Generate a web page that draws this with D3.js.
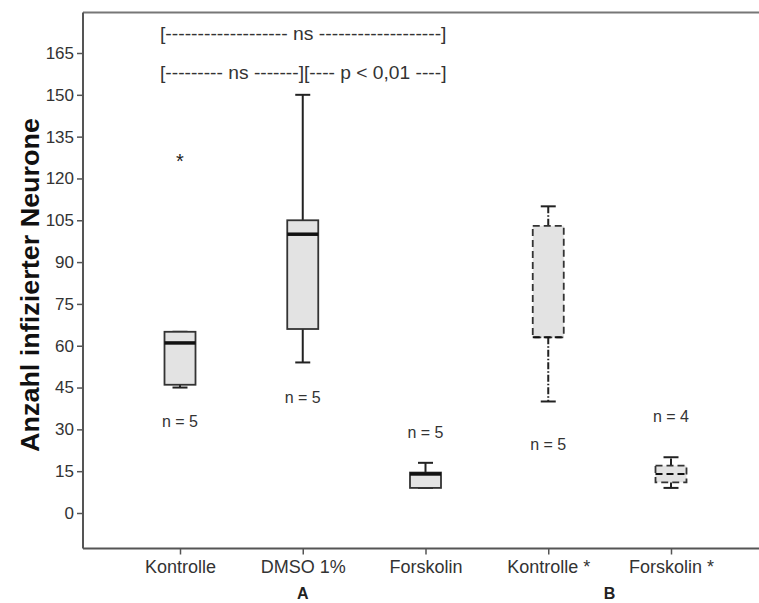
<!DOCTYPE html>
<html>
<head>
<meta charset="utf-8">
<script src="https://cdn.jsdelivr.net/npm/d3@7"></script>
<style>
  html, body { margin: 0; padding: 0; background: #fff; }
  svg { display: block; font-family: "Liberation Sans", Arial, sans-serif; }
</style>
</head>
<body>
<svg id="chart" width="759" height="603"></svg>
<script>
// ---- data ----
const categories = ["Kontrolle", "DMSO 1%", "Forskolin", "Kontrolle *", "Forskolin *"];
const groupOf = ["A", "A", "A", "B", "B"];
const dashed = [false, false, false, true, true];
const whiskerLow = [45, 54, 9, 40, 9];
const q1 = [46, 66, 9, 63, 11];
const median = [61, 100, 14, 63, 14];
const q3 = [65, 105, 14.5, 103, 17];
const whiskerHigh = [65, 150, 18, 110, 20];
const outlierCats = ["Kontrolle"];
const outlierValues = [127];
const nLabels = ["n = 5", "n = 5", "n = 5", "n = 5", "n = 4"];
const nLabelAt = [33, 41.5, 29, 24.5, 34.5];
const yTicks = [0, 15, 30, 45, 60, 75, 90, 105, 120, 135, 150, 165];
const groups = ["A", "B"];
const annotations = [
  { text: "[------------------- ns -------------------]", from: "Kontrolle", to: "Forskolin", at: 172 },
  { text: "[--------- ns -------][---- p < 0,01 ----]", from: "Kontrolle", to: "Forskolin", at: 158 }
];

// ---- layout ----
const svg = d3.select("#chart");
const frame = { left: 83, top: 12.5, bottom: 548.5, right: 780 };
const y = d3.scaleLinear().domain([0, 165]).range([513, 53]);
const x = d3.scalePoint().domain(categories).range([180, 671]);
const boxW = 31, capW = 15;
const textCol = "#333";

// frame
svg.append("line").attr("x1", frame.left).attr("x2", frame.right).attr("y1", frame.top).attr("y2", frame.top)
  .attr("stroke", "#777").attr("stroke-width", 2);
svg.append("line").attr("x1", frame.left).attr("x2", frame.right).attr("y1", frame.bottom).attr("y2", frame.bottom)
  .attr("stroke", "#555").attr("stroke-width", 2);

// y axis
const yAxis = svg.append("g").attr("transform", `translate(${frame.left},0)`)
  .call(d3.axisLeft(y).tickValues(yTicks).tickSize(6).tickSizeOuter(0).tickPadding(3));
yAxis.select(".domain").remove();
yAxis.append("line").attr("x1", 0).attr("x2", 0).attr("y1", frame.top).attr("y2", frame.bottom)
  .attr("stroke", "#555").attr("stroke-width", 2);
yAxis.selectAll(".tick line").attr("stroke", "#555").attr("stroke-width", 1.5);
yAxis.selectAll(".tick text").attr("fill", textCol).style("font-size", "17px")
  .style("font-family", "'Liberation Sans', Arial, sans-serif");

// x axis
const xAxis = svg.append("g").attr("transform", `translate(0,${frame.bottom})`)
  .call(d3.axisBottom(x).tickSize(6).tickPadding(6));
xAxis.select(".domain").remove();
xAxis.selectAll(".tick line").attr("stroke", "#555").attr("stroke-width", 1.5);
xAxis.selectAll(".tick text").attr("fill", textCol).style("font-size", "18px")
  .style("font-family", "'Liberation Sans', Arial, sans-serif");

// group labels
groups.forEach(g => {
  const members = categories.filter((c, i) => groupOf[i] === g);
  const cx = d3.mean(members, c => x(c));
  svg.append("text").attr("x", cx).attr("y", 599).attr("text-anchor", "middle")
    .attr("font-weight", "bold").attr("font-size", 16).attr("fill", "#222").text(g);
});

// y title
svg.append("text")
  .attr("transform", `translate(39,${(y(0) + y(165)) / 2 + 2}) rotate(-90)`)
  .attr("text-anchor", "middle").attr("font-weight", "bold").attr("font-size", 25)
  .attr("textLength", 334).attr("lengthAdjust", "spacingAndGlyphs")
  .attr("fill", "#111").text("Anzahl infizierter Neurone");

// boxes
const data = categories.map((c, i) => ({
  c, lo: whiskerLow[i], q1: q1[i], med: median[i], q3: q3[i], hi: whiskerHigh[i], dashed: dashed[i]
}));
const g = svg.append("g");
data.forEach(d => {
  const cx = x(d.c);
  const wDash = d.dashed ? "7,2,1.5,2" : null;
  const bDash = d.dashed ? "7,4" : null;
  // whiskers
  g.append("line").attr("x1", cx).attr("x2", cx).attr("y1", y(d.q3)).attr("y2", y(d.hi))
    .attr("stroke", "#222").attr("stroke-width", 2).attr("stroke-dasharray", wDash);
  g.append("line").attr("x1", cx).attr("x2", cx).attr("y1", y(d.q1)).attr("y2", y(d.lo))
    .attr("stroke", "#222").attr("stroke-width", 2).attr("stroke-dasharray", wDash);
  // caps
  [d.lo, d.hi].forEach(v => {
    g.append("line").attr("x1", cx - capW / 2).attr("x2", cx + capW / 2).attr("y1", y(v)).attr("y2", y(v))
      .attr("stroke", "#222").attr("stroke-width", 2);
  });
  // box
  g.append("rect").attr("x", cx - boxW / 2).attr("width", boxW)
    .attr("y", y(d.q3)).attr("height", y(d.q1) - y(d.q3))
    .attr("fill", "#e3e3e3").attr("stroke", "#333").attr("stroke-width", 1.8)
    .attr("stroke-dasharray", bDash);
  // median
  g.append("line").attr("x1", cx - boxW / 2).attr("x2", cx + boxW / 2).attr("y1", y(d.med)).attr("y2", y(d.med))
    .attr("stroke", "#111").attr("stroke-width", d.dashed ? 2 : 3.5)
    .attr("stroke-dasharray", d.dashed ? "7,4" : null);
});

// outliers
outlierCats.forEach((c, i) => {
  svg.append("text").attr("x", x(c)).attr("y", y(outlierValues[i]) + 9)
    .attr("text-anchor", "middle").attr("font-size", 20).attr("fill", "#222").text("*");
});

// n labels
categories.forEach((c, i) => {
  svg.append("text").attr("x", x(c)).attr("y", y(nLabelAt[i])).attr("dy", "0.35em")
    .attr("text-anchor", "middle").attr("font-size", 16).attr("fill", textCol).text(nLabels[i]);
});

// annotations
annotations.forEach(a => {
  const x0 = x(a.from) - 20, x1 = x(a.to) + 21;
  svg.append("text").attr("x", x0).attr("y", y(a.at)).attr("dy", "0.35em")
    .attr("font-size", 18).attr("fill", textCol)
    .attr("textLength", x1 - x0).attr("lengthAdjust", "spacingAndGlyphs")
    .text(a.text);
});
</script>
</body>
</html>
